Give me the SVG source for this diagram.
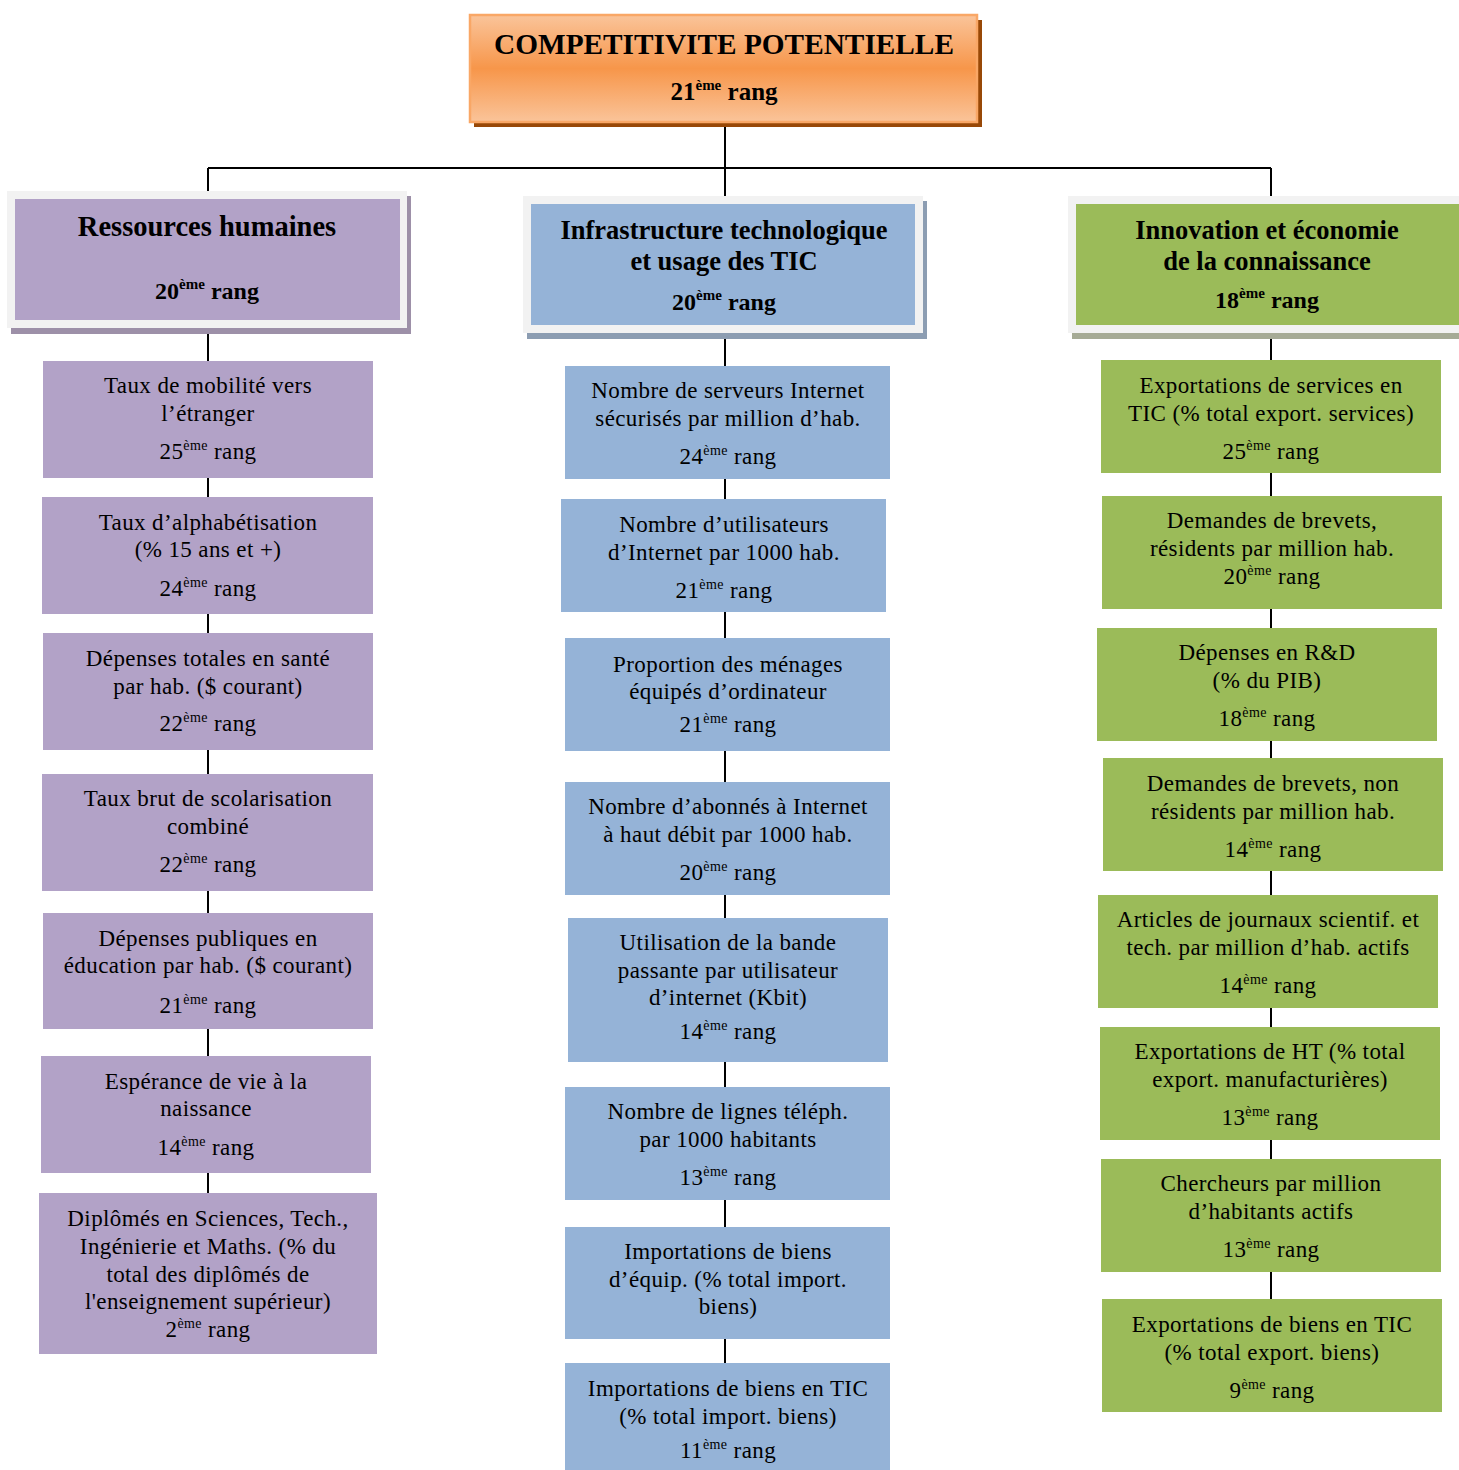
<svg xmlns="http://www.w3.org/2000/svg" width="1459" height="1470" viewBox="0 0 1459 1470">
<defs>
<linearGradient id="og" x1="0" y1="0" x2="0" y2="1">
<stop offset="0" stop-color="#fac49a"/>
<stop offset="0.5" stop-color="#f7964a"/>
<stop offset="1" stop-color="#fac49a"/>
</linearGradient>
</defs>
<style>
text{font-family:"Liberation Serif","Times New Roman",serif;fill:#000;text-anchor:middle}
.t{font-size:23px;letter-spacing:0.4px}
.s{font-size:14px}
.hb{font-size:26.5px;font-weight:bold}
.hr{font-size:24px;font-weight:bold}
.hs{font-size:15px;font-weight:bold}
.p{fill:#b2a2c7}
.b{fill:#95b3d7}
.g{fill:#9bbb59}
.fr{fill:#f2f2f2}
.ln{stroke:#000;stroke-width:2;fill:none}
</style>
<rect width="1459" height="1470" fill="#fff"/>
<g id="connectors">
<path class="ln" d="M725 122V168M208 168H1271M208 168V1193M725 168V1363M1271 168V1299"/>
</g>
<g id="root">
<rect x="474" y="20" width="508" height="107" fill="#984807"/>
<rect x="470" y="15" width="507" height="107" fill="url(#og)" stroke="#f9a766" stroke-width="2.5"/>
<text x="724" y="54" style="font-size:29.3px;font-weight:bold">COMPETITIVITE POTENTIELLE</text>
<text x="724" y="100" style="font-size:25px;font-weight:bold">21<tspan style="font-size:15px" dy="-10">ème</tspan><tspan dy="10"> rang</tspan></text>
</g>
<g id="h1">
<rect x="11" y="196" width="400" height="138" fill="#9d90a8"/>
<rect class="fr" x="7" y="191" width="400" height="137"/>
<rect class="p" x="15" y="199" width="385" height="121"/>
<text class="hb" x="207" y="236" style="font-size:28.5px">Ressources humaines</text>
<text class="hr" x="207" y="299">20<tspan class="hs" dy="-10">ème</tspan><tspan dy="10"> rang</tspan></text>
</g>
<g id="h2">
<rect x="527" y="201" width="400" height="138" fill="#8c9db2"/>
<rect class="fr" x="523" y="196" width="400" height="137"/>
<rect class="b" x="531" y="204" width="384" height="121"/>
<text class="hb" x="724" y="239">Infrastructure technologique</text>
<text class="hb" x="724" y="270">et usage des TIC</text>
<text class="hr" x="724" y="310">20<tspan class="hs" dy="-10">ème</tspan><tspan dy="10"> rang</tspan></text>
</g>
<g id="h3">
<rect x="1072" y="201" width="400" height="138" fill="#a6ab96"/>
<rect class="fr" x="1068" y="196" width="400" height="137"/>
<rect class="g" x="1076" y="204" width="390" height="121"/>
<text class="hb" x="1267" y="239">Innovation et économie</text>
<text class="hb" x="1267" y="270">de la connaissance</text>
<text class="hr" x="1267" y="308">18<tspan class="hs" dy="-10">ème</tspan><tspan dy="10"> rang</tspan></text>
</g>
<g id="c1n1"><rect class="p" x="43" y="361" width="330" height="117"/>
<text class="t" x="208" y="393">Taux de mobilité vers</text><text class="t" x="208" y="421">l’étranger</text>
<text class="t" x="208" y="459">25<tspan class="s" dy="-9">ème</tspan><tspan dy="9"> rang</tspan></text></g>
<g id="c1n2"><rect class="p" x="42" y="497" width="331" height="117"/>
<text class="t" x="208" y="530">Taux d’alphabétisation</text><text class="t" x="208" y="557">(% 15 ans et +)</text>
<text class="t" x="208" y="596">24<tspan class="s" dy="-9">ème</tspan><tspan dy="9"> rang</tspan></text></g>
<g id="c1n3"><rect class="p" x="43" y="633" width="330" height="117"/>
<text class="t" x="208" y="666">Dépenses totales en santé</text><text class="t" x="208" y="694">par hab. ($ courant)</text>
<text class="t" x="208" y="731">22<tspan class="s" dy="-9">ème</tspan><tspan dy="9"> rang</tspan></text></g>
<g id="c1n4"><rect class="p" x="42" y="774" width="331" height="117"/>
<text class="t" x="208" y="806">Taux brut de scolarisation</text><text class="t" x="208" y="834">combiné</text>
<text class="t" x="208" y="872">22<tspan class="s" dy="-9">ème</tspan><tspan dy="9"> rang</tspan></text></g>
<g id="c1n5"><rect class="p" x="43" y="913" width="330" height="116"/>
<text class="t" x="208" y="946">Dépenses publiques en</text><text class="t" x="208" y="973">éducation par hab. ($ courant)</text>
<text class="t" x="208" y="1013">21<tspan class="s" dy="-9">ème</tspan><tspan dy="9"> rang</tspan></text></g>
<g id="c1n6"><rect class="p" x="41" y="1056" width="330" height="117"/>
<text class="t" x="206" y="1089">Espérance de vie à la</text><text class="t" x="206" y="1116">naissance</text>
<text class="t" x="206" y="1155">14<tspan class="s" dy="-9">ème</tspan><tspan dy="9"> rang</tspan></text></g>
<g id="c1n7"><rect class="p" x="39" y="1193" width="338" height="161"/>
<text class="t" x="208" y="1226">Diplômés en Sciences, Tech.,</text><text class="t" x="208" y="1254">Ingénierie et Maths. (% du</text>
<text class="t" x="208" y="1282">total des diplômés de</text><text class="t" x="208" y="1309">l'enseignement supérieur)</text>
<text class="t" x="208" y="1337">2<tspan class="s" dy="-9">ème</tspan><tspan dy="9"> rang</tspan></text></g>
<g id="c2n1"><rect class="b" x="565" y="366" width="325" height="113"/>
<text class="t" x="728" y="398">Nombre de serveurs Internet</text><text class="t" x="728" y="426">sécurisés par million d’hab.</text>
<text class="t" x="728" y="464">24<tspan class="s" dy="-9">ème</tspan><tspan dy="9"> rang</tspan></text></g>
<g id="c2n2"><rect class="b" x="561" y="499" width="325" height="113"/>
<text class="t" x="724" y="532">Nombre d’utilisateurs</text><text class="t" x="724" y="560">d’Internet par 1000 hab.</text>
<text class="t" x="724" y="598">21<tspan class="s" dy="-9">ème</tspan><tspan dy="9"> rang</tspan></text></g>
<g id="c2n3"><rect class="b" x="565" y="638" width="325" height="113"/>
<text class="t" x="728" y="672">Proportion des ménages</text><text class="t" x="728" y="699">équipés d’ordinateur</text>
<text class="t" x="728" y="732">21<tspan class="s" dy="-9">ème</tspan><tspan dy="9"> rang</tspan></text></g>
<g id="c2n4"><rect class="b" x="565" y="782" width="325" height="113"/>
<text class="t" x="728" y="814">Nombre d’abonnés à Internet</text><text class="t" x="728" y="842">à haut débit par 1000 hab.</text>
<text class="t" x="728" y="880">20<tspan class="s" dy="-9">ème</tspan><tspan dy="9"> rang</tspan></text></g>
<g id="c2n5"><rect class="b" x="568" y="918" width="320" height="144"/>
<text class="t" x="728" y="950">Utilisation de la bande</text><text class="t" x="728" y="978">passante par utilisateur</text>
<text class="t" x="728" y="1005">d’internet (Kbit)</text>
<text class="t" x="728" y="1039">14<tspan class="s" dy="-9">ème</tspan><tspan dy="9"> rang</tspan></text></g>
<g id="c2n6"><rect class="b" x="565" y="1087" width="325" height="113"/>
<text class="t" x="728" y="1119">Nombre de lignes téléph.</text><text class="t" x="728" y="1147">par 1000 habitants</text>
<text class="t" x="728" y="1185">13<tspan class="s" dy="-9">ème</tspan><tspan dy="9"> rang</tspan></text></g>
<g id="c2n7"><rect class="b" x="565" y="1227" width="325" height="112"/>
<text class="t" x="728" y="1259">Importations de biens</text><text class="t" x="728" y="1287">d’équip. (% total import.</text>
<text class="t" x="728" y="1314">biens)</text></g>
<g id="c2n8"><rect class="b" x="565" y="1363" width="325" height="107"/>
<text class="t" x="728" y="1396">Importations de biens en TIC</text><text class="t" x="728" y="1424">(% total import. biens)</text>
<text class="t" x="728" y="1458">11<tspan class="s" dy="-9">ème</tspan><tspan dy="9"> rang</tspan></text></g>
<g id="c3n1"><rect class="g" x="1101" y="360" width="340" height="113"/>
<text class="t" x="1271" y="393">Exportations de services en</text><text class="t" x="1271" y="421">TIC (% total export. services)</text>
<text class="t" x="1271" y="459">25<tspan class="s" dy="-9">ème</tspan><tspan dy="9"> rang</tspan></text></g>
<g id="c3n2"><rect class="g" x="1102" y="496" width="340" height="113"/>
<text class="t" x="1272" y="528">Demandes de brevets,</text><text class="t" x="1272" y="556">résidents par million hab.</text>
<text class="t" x="1272" y="584">20<tspan class="s" dy="-9">ème</tspan><tspan dy="9"> rang</tspan></text></g>
<g id="c3n3"><rect class="g" x="1097" y="628" width="340" height="113"/>
<text class="t" x="1267" y="660">Dépenses en R&amp;D</text><text class="t" x="1267" y="688">(% du PIB)</text>
<text class="t" x="1267" y="726">18<tspan class="s" dy="-9">ème</tspan><tspan dy="9"> rang</tspan></text></g>
<g id="c3n4"><rect class="g" x="1103" y="758" width="340" height="113"/>
<text class="t" x="1273" y="791">Demandes de brevets, non</text><text class="t" x="1273" y="819">résidents par million hab.</text>
<text class="t" x="1273" y="857">14<tspan class="s" dy="-9">ème</tspan><tspan dy="9"> rang</tspan></text></g>
<g id="c3n5"><rect class="g" x="1098" y="895" width="340" height="113"/>
<text class="t" x="1268" y="927">Articles de journaux scientif. et</text><text class="t" x="1268" y="955">tech. par million d’hab. actifs</text>
<text class="t" x="1268" y="993">14<tspan class="s" dy="-9">ème</tspan><tspan dy="9"> rang</tspan></text></g>
<g id="c3n6"><rect class="g" x="1100" y="1027" width="340" height="113"/>
<text class="t" x="1270" y="1059">Exportations de HT (% total</text><text class="t" x="1270" y="1087">export. manufacturières)</text>
<text class="t" x="1270" y="1125">13<tspan class="s" dy="-9">ème</tspan><tspan dy="9"> rang</tspan></text></g>
<g id="c3n7"><rect class="g" x="1101" y="1159" width="340" height="113"/>
<text class="t" x="1271" y="1191">Chercheurs par million</text><text class="t" x="1271" y="1219">d’habitants actifs</text>
<text class="t" x="1271" y="1257">13<tspan class="s" dy="-9">ème</tspan><tspan dy="9"> rang</tspan></text></g>
<g id="c3n8"><rect class="g" x="1102" y="1299" width="340" height="113"/>
<text class="t" x="1272" y="1332">Exportations de biens en TIC</text><text class="t" x="1272" y="1360">(% total export. biens)</text>
<text class="t" x="1272" y="1398">9<tspan class="s" dy="-9">ème</tspan><tspan dy="9"> rang</tspan></text></g>
</svg>
